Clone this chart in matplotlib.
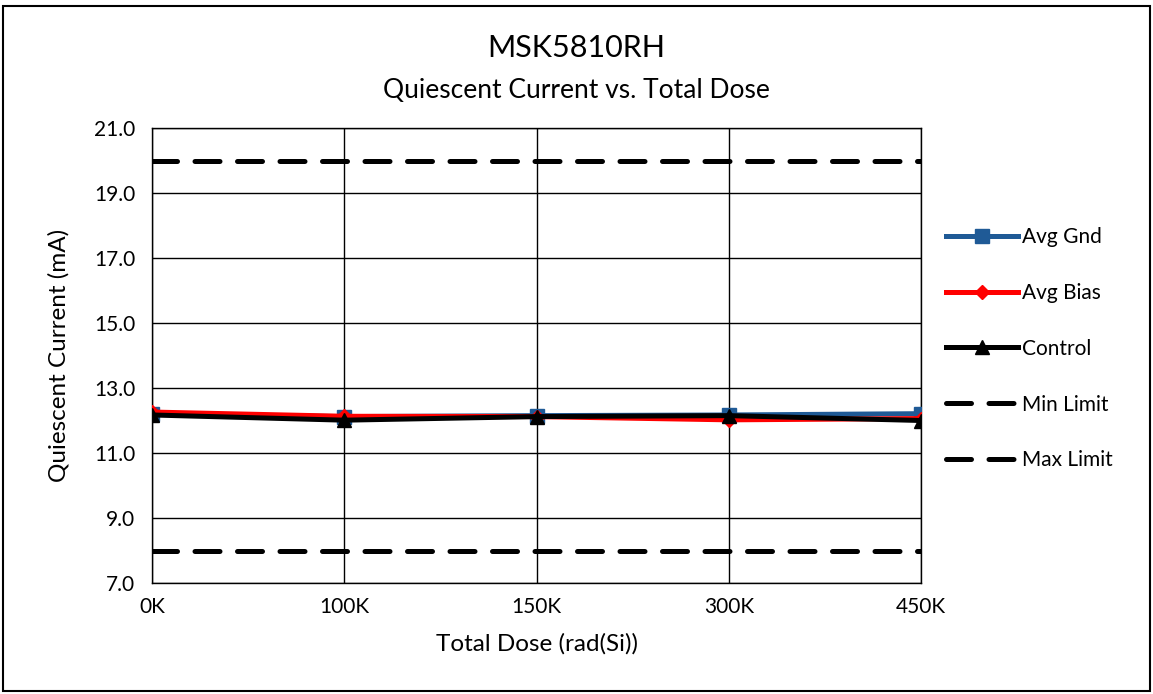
import numpy as np
import matplotlib.pyplot as plt
from matplotlib.patches import Rectangle

# Données
doses = ["0K", "100K", "150K", "300K", "450K"]
avg_gnd = [12.20, 12.12, 12.15, 12.17, 12.21]
avg_bias = [12.26, 12.13, 12.12, 12.02, 12.06]
control = [12.17, 12.01, 12.12, 12.15, 12.00]
min_limit = [8.0, 8.0, 8.0, 8.0, 8.0]
max_limit = [20.0, 20.0, 20.0, 20.0, 20.0]

plt.rcParams['font.family'] = ['Lato', 'DejaVu Sans']

fig = plt.figure(figsize=(11.53, 6.94), dpi=100)
ax = fig.add_axes([152 / 1153, 1 - 583 / 694, (921 - 152) / 1153, (583 - 128) / 694])

x = np.arange(len(doses))
ax.plot(x, avg_gnd, color="#1f5a96", lw=3.6, marker="s", ms=10, label="Avg Gnd", zorder=3)
ax.plot(x, avg_bias, color="#ff0000", lw=3.6, marker="D", ms=7.5, label="Avg Bias", zorder=4)
ax.plot(x, control, color="black", lw=3.6, marker="^", ms=10, label="Control", zorder=5)
ax.plot(x, min_limit, color="black", lw=3.6, ls=(0, (5, 3.5)), dash_capstyle="round",
        label="Min Limit", zorder=3)
ax.plot(x, max_limit, color="black", lw=3.6, ls=(0, (5, 3.5)), dash_capstyle="round",
        label="Max Limit", zorder=3)

ax.set_xlim(0, len(doses) - 1)
ax.set_ylim(7, 21)
ax.set_yticks(np.arange(7, 21.1, 2))
ax.set_yticklabels([f"{v:.1f}" for v in np.arange(7, 21.1, 2)], fontsize=15)
ax.set_xticks(x)
ax.set_xticklabels(doses, fontsize=15)
ax.tick_params(axis="x", length=0, pad=10)
ax.tick_params(axis="y", length=0, pad=12)
ax.grid(True, color="black", lw=1)
for s in ax.spines.values():
    s.set_color("black")
    s.set_linewidth(1)

ax.set_xlabel("Total Dose (rad(Si))", fontsize=17.5, labelpad=12)
ax.set_ylabel("Quiescent Current (mA)", fontsize=17.5, labelpad=18)

fig.text(0.5, 1 - 48 / 694, "MSK5810RH", ha="center", va="center", fontsize=22)
fig.text(0.5, 1 - 90 / 694, "Quiescent Current vs. Total Dose", ha="center", va="center", fontsize=19)

ax.legend(loc="center left", bbox_to_anchor=(1.008, 0.515), frameon=False, fontsize=15,
          labelspacing=1.72, handlelength=3.45, handletextpad=0.2)

# Cadre autour de la figure
fig.patches.append(Rectangle((3 / 1153, 3 / 694), 1 - 6 / 1153, 1 - 9 / 694,
                             transform=fig.transFigure, fill=False, ec="black", lw=1.5))

plt.savefig("out.png", dpi=100)
plt.close()
